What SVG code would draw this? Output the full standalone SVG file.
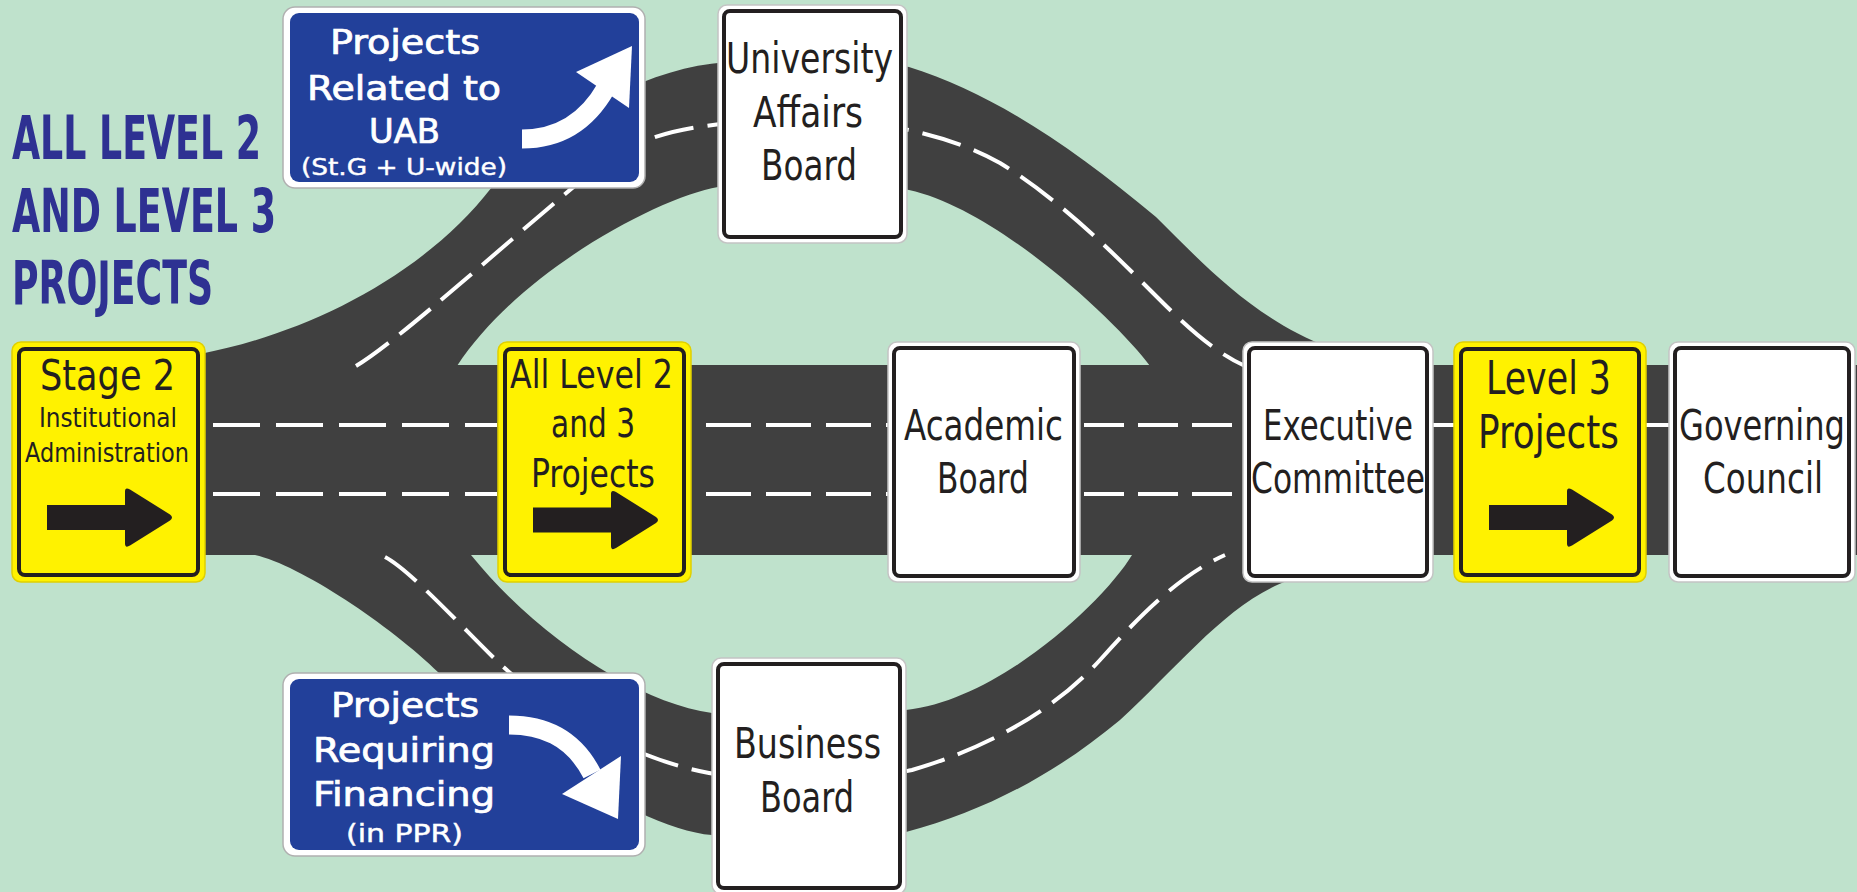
<svg xmlns="http://www.w3.org/2000/svg" xmlns:xlink="http://www.w3.org/1999/xlink" width="1857" height="892" viewBox="0 0 1857 892">
<style>
.road{fill:#404040}
.dash{fill:none;stroke:#ffffff;stroke-width:4}
.yo{fill:#fff200;stroke:#e0d000;stroke-width:1.5}
.yi{fill:#fff200;stroke:#231f20;stroke-width:4}
.wo{fill:#ffffff;stroke:#c4c4c4;stroke-width:1.5}
.wi{fill:#ffffff;stroke:#231f20;stroke-width:4}
.bo{fill:#ffffff;stroke:#b0b0b0;stroke-width:1.5}
.bi{fill:#22409a}
.t{font-family:"DejaVu Sans Condensed","Liberation Sans Narrow","Liberation Sans",sans-serif;fill:#231f20;font-size:42px}
.tw{font-family:"DejaVu Sans Condensed","Liberation Sans Narrow","Liberation Sans",sans-serif;fill:#ffffff;stroke:#ffffff;stroke-width:0.7;font-size:33px}
.title{font-family:"DejaVu Sans Condensed","Liberation Sans Narrow","Liberation Sans",sans-serif;fill:#2e3192;font-size:60px;font-weight:bold}
.arr{fill:#231f20}
.warr{fill:none;stroke:#ffffff;stroke-width:19}
</style>
<defs>
<path id="arrow" class="arr" d="M0,-12.5 H78 V-26 Q78,-31 83,-28 L123,-3 Q127,0 123,3 L83,28 Q78,31 78,26 V12.5 H0 Z"/>
</defs>
<rect x="0" y="0" width="1857" height="892" fill="#bfe2cc"/>

<g id="connectors">
  <path class="road" d="M160,366 Q185,362 200,354 C300,335 420,280 492,187 C537,129 640,70 718,63 C760,56 860,56 909,67 C990,92 1070,145 1156,217 C1215,275 1280,350 1400,365 L1400,372 L1150,372 L1150,366 C1120,325 1000,210 909,190 C850,180 760,180 718,187 C660,197 520,270 457,366 L457,372 L160,372 Z"/>
  <path class="road" d="M230,550 L255,555 C300,565 390,625 439,673 C500,735 640,830 712,835 C760,845 860,845 906,832 C990,810 1060,770 1120,720 C1180,665 1230,600 1290,580 C1320,570 1340,555 1370,550 L1370,548 L1132,548 L1132,555 C1105,600 1000,700 906,710 C860,718 760,718 712,713 C640,703 540,640 471,555 L471,548 L230,548 Z"/>
  <rect class="road" x="100" y="365" width="1757" height="190"/>
  <path class="dash" stroke-dasharray="40 14" d="M356,366 C400,340 520,230 600,165 C650,130 700,122 800,120 C880,119 950,135 1000,163 C1060,200 1110,250 1150,290 C1180,320 1210,350 1245,366"/>
  <path class="dash" stroke-dasharray="40 14" d="M385,557 C410,570 460,625 498,662 C560,720 640,760 709,773 C750,780 860,782 912,770 C980,750 1050,715 1100,660 C1140,615 1180,575 1225,555"/>
  <path class="dash" stroke-dasharray="47 16" d="M213,425 H497 M213,494 H497"/>
  <path class="dash" stroke-dasharray="45 15" d="M706,425 H888 M706,494 H888"/>
  <path class="dash" stroke-dasharray="40 14" d="M1084,425 H1243 M1084,494 H1243"/>
  <path class="dash" d="M1433,425 H1454 M1646,425 H1669"/>
</g>

<g id="title">
  <text class="title" x="12" y="159" textLength="249" lengthAdjust="spacingAndGlyphs">ALL LEVEL 2</text>
  <text class="title" x="12" y="232" textLength="264" lengthAdjust="spacingAndGlyphs">AND LEVEL 3</text>
  <text class="title" x="12" y="304" textLength="201" lengthAdjust="spacingAndGlyphs">PROJECTS</text>
</g>

<g id="uab-sign">
  <rect class="bo" x="283" y="7" width="362" height="181" rx="12"/>
  <rect class="bi" x="290" y="13" width="349" height="169" rx="9"/>
  <text class="tw" x="330" y="54" textLength="150" lengthAdjust="spacingAndGlyphs">Projects</text>
  <text class="tw" x="307" y="100" textLength="194" lengthAdjust="spacingAndGlyphs">Related to</text>
  <text class="tw" x="369" y="143" textLength="71" lengthAdjust="spacingAndGlyphs">UAB</text>
  <text class="tw" x="301" y="175" style="font-size:23px;stroke-width:0.4" textLength="206" lengthAdjust="spacingAndGlyphs">(St.G + U-wide)</text>
  <path class="warr" d="M522,139 C555,139 585,125 606,88"/>
  <polygon fill="#ffffff" points="576,72 632,46 629,108"/>
</g>

<g id="financing-sign">
  <rect class="bo" x="283" y="673" width="362" height="183" rx="12"/>
  <rect class="bi" x="290" y="679" width="349" height="171" rx="9"/>
  <text class="tw" x="331" y="717" textLength="148" lengthAdjust="spacingAndGlyphs">Projects</text>
  <text class="tw" x="313" y="762" textLength="182" lengthAdjust="spacingAndGlyphs">Requiring</text>
  <text class="tw" x="313" y="806" textLength="182" lengthAdjust="spacingAndGlyphs">Financing</text>
  <text class="tw" x="346" y="842" style="font-size:24px;stroke-width:0.4" textLength="117" lengthAdjust="spacingAndGlyphs">(in PPR)</text>
  <path class="warr" d="M509,725 C540,725 572,735 592,774"/>
  <polygon fill="#ffffff" points="621,756 562,794 618,819"/>
</g>

<g id="stage2">
  <rect class="yo" x="12" y="342" width="193" height="240" rx="9"/>
  <rect class="yi" x="19" y="349" width="179" height="226" rx="6"/>
  <text class="t" x="40" y="390" textLength="135" lengthAdjust="spacingAndGlyphs">Stage 2</text>
  <text class="t" x="39" y="427" style="font-size:27px" textLength="138" lengthAdjust="spacingAndGlyphs">Institutional</text>
  <text class="t" x="25" y="462" style="font-size:27px" textLength="164" lengthAdjust="spacingAndGlyphs">Administration</text>
  <use href="#arrow" transform="translate(47,517.5)"/>
</g>

<g id="all-level">
  <rect class="yo" x="498" y="342" width="193" height="240" rx="9"/>
  <rect class="yi" x="505" y="349" width="179" height="226" rx="6"/>
  <text class="t" x="510" y="388" style="font-size:39px" textLength="163" lengthAdjust="spacingAndGlyphs">All Level 2</text>
  <text class="t" x="551" y="437" style="font-size:39px" textLength="84" lengthAdjust="spacingAndGlyphs">and 3</text>
  <text class="t" x="531" y="487" style="font-size:39px" textLength="124" lengthAdjust="spacingAndGlyphs">Projects</text>
  <use href="#arrow" transform="translate(533,520)"/>
</g>

<g id="university-affairs-board">
  <rect class="wo" x="718" y="5" width="189" height="238" rx="9"/>
  <rect class="wi" x="724" y="11" width="177" height="226" rx="6"/>
  <text class="t" x="726" y="73" textLength="167" lengthAdjust="spacingAndGlyphs">University</text>
  <text class="t" x="753" y="127" textLength="110" lengthAdjust="spacingAndGlyphs">Affairs</text>
  <text class="t" x="761" y="180" textLength="96" lengthAdjust="spacingAndGlyphs">Board</text>
</g>

<g id="business-board">
  <rect class="wo" x="712" y="658" width="194" height="236" rx="9"/>
  <rect class="wi" x="718" y="664" width="182" height="224" rx="6"/>
  <text class="t" x="734" y="758" textLength="147" lengthAdjust="spacingAndGlyphs">Business</text>
  <text class="t" x="760" y="812" textLength="94" lengthAdjust="spacingAndGlyphs">Board</text>
</g>

<g id="academic-board">
  <rect class="wo" x="888" y="342" width="192" height="240" rx="9"/>
  <rect class="wi" x="894" y="348" width="180" height="228" rx="6"/>
  <text class="t" x="904" y="440" textLength="159" lengthAdjust="spacingAndGlyphs">Academic</text>
  <text class="t" x="937" y="493" textLength="92" lengthAdjust="spacingAndGlyphs">Board</text>
</g>

<g id="executive-committee">
  <rect class="wo" x="1243" y="342" width="190" height="240" rx="9"/>
  <rect class="wi" x="1249" y="348" width="178" height="228" rx="6"/>
  <text class="t" x="1263" y="440" textLength="150" lengthAdjust="spacingAndGlyphs">Executive</text>
  <text class="t" x="1251" y="493" textLength="174" lengthAdjust="spacingAndGlyphs">Committee</text>
</g>

<g id="level3">
  <rect class="yo" x="1454" y="342" width="192" height="240" rx="9"/>
  <rect class="yi" x="1461" y="349" width="178" height="226" rx="6"/>
  <text class="t" x="1486" y="394" style="font-size:46px" textLength="125" lengthAdjust="spacingAndGlyphs">Level 3</text>
  <text class="t" x="1478" y="448" style="font-size:46px" textLength="141" lengthAdjust="spacingAndGlyphs">Projects</text>
  <use href="#arrow" transform="translate(1489,517.5)"/>
</g>

<g id="governing-council">
  <rect class="wo" x="1669" y="342" width="186" height="240" rx="9"/>
  <rect class="wi" x="1675" y="348" width="174" height="228" rx="6"/>
  <text class="t" x="1679" y="440" textLength="166" lengthAdjust="spacingAndGlyphs">Governing</text>
  <text class="t" x="1703" y="493" textLength="120" lengthAdjust="spacingAndGlyphs">Council</text>
</g>
</svg>
